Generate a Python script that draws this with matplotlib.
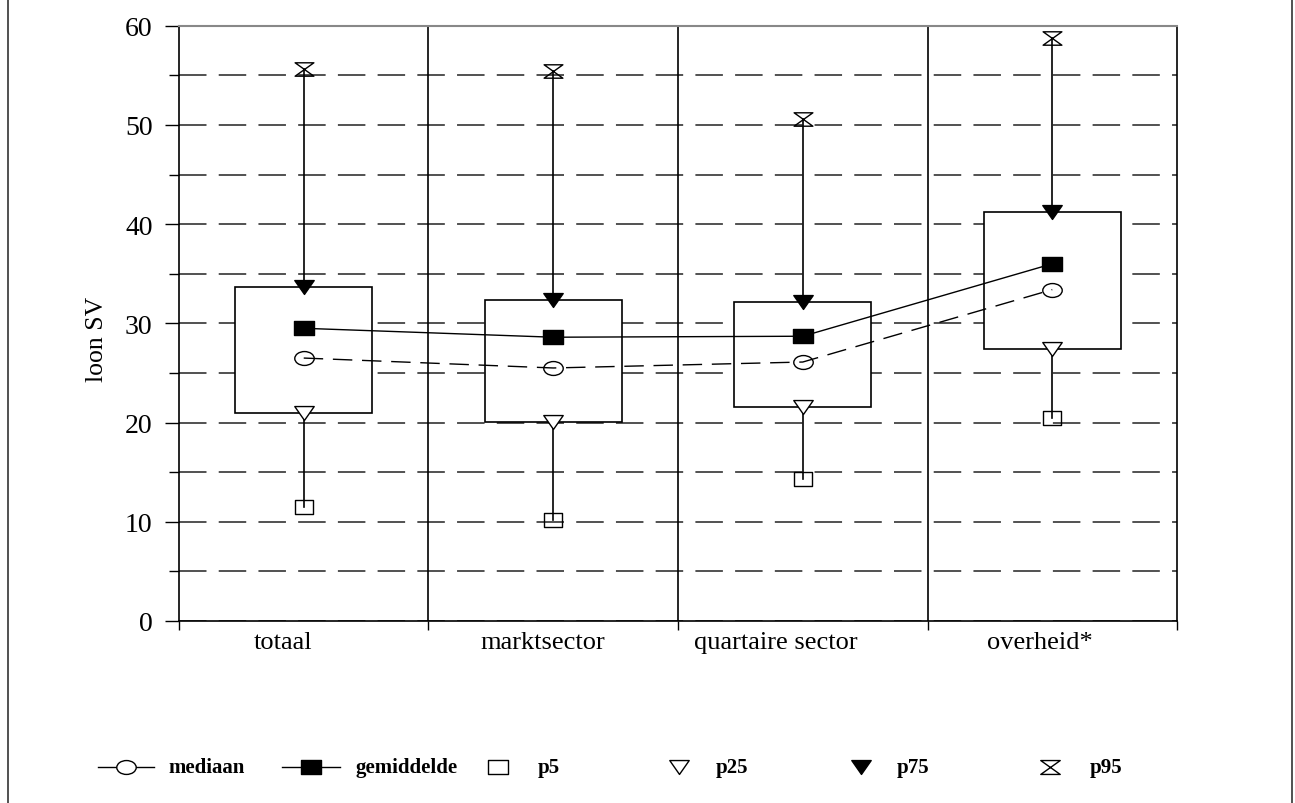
import numpy as np
import matplotlib
matplotlib.use("Agg")
import matplotlib.pyplot as plt
from matplotlib.path import Path
from matplotlib.transforms import Affine2D
from matplotlib.lines import Line2D
from matplotlib.patches import Rectangle

plt.rcParams['font.family'] = ['Liberation Serif', 'DejaVu Serif']

# data
categories = ['totaal', 'marktsector', 'quartaire sector', 'overheid*']
p5 = [11.5, 10.2, 14.3, 20.5]
p25 = [21.0, 20.1, 21.6, 27.4]
mediaan = [26.5, 25.5, 26.1, 33.4]
gemiddelde = [29.5, 28.6, 28.7, 36.0]
p75 = [33.7, 32.4, 32.1, 41.2]
p95 = [55.6, 55.4, 50.6, 58.8]

# scanned markers are stretched horizontally
sx = 1.4
m_ellipse = Path.unit_circle().transformed(Affine2D().scale(sx, 1))
m_rect = Path.unit_rectangle().transformed(Affine2D().translate(-0.5, -0.5).scale(sx, 1))
m_tri = Path([(-sx, 1), (sx, 1), (0, -1), (-sx, 1)],
             [Path.MOVETO, Path.LINETO, Path.LINETO, Path.CLOSEPOLY])
m_hour = Path([(-sx, 1), (sx, 1), (-sx, -1), (sx, -1), (-sx, 1)],
              [Path.MOVETO, Path.LINETO, Path.LINETO, Path.LINETO, Path.CLOSEPOLY])

fig = plt.figure(figsize=(12.95, 8.04), dpi=100)
ax = fig.add_axes([0.1382, 0.2264, 0.7707, 0.7404])

x = np.arange(len(categories))
bw = 0.55

ax.set_xlim(-0.5, len(categories) - 0.5)
ax.set_ylim(0, 60)

# gridlines
ax.set_yticks(np.arange(0, 61, 10))
ax.set_yticks(np.arange(5, 60, 10), minor=True)
ax.grid(axis='y', which='both', linestyle=(0, (18, 8)), color='#222222', lw=1.1, zorder=0.5)
ax.set_axisbelow(True)
for b in x[:-1] + 0.5:
    ax.axvline(b, color='black', lw=1.2, zorder=1)

# boxes and whiskers
for i in x:
    ax.add_patch(Rectangle((i - bw / 2, p25[i]), bw, p75[i] - p25[i],
                           facecolor='white', edgecolor='black', lw=1.2, zorder=2))
    ax.plot([i, i], [p5[i], p25[i]], color='black', lw=1.2, zorder=2)
    ax.plot([i, i], [p75[i], p95[i]], color='black', lw=1.2, zorder=2)

ax.plot(x, gemiddelde, color='black', lw=1.0, zorder=3)
ax.plot(x, mediaan, color='black', lw=1.0, linestyle=(0, (14, 7)), zorder=3)

ax.plot(x, p5, linestyle='none', marker=m_rect, ms=13.5, mfc='none', mec='black', mew=1.0, zorder=4)
ax.plot(x, p25, linestyle='none', marker=m_tri, ms=14, mfc='white', mec='black', mew=1.0, zorder=4)
ax.plot(x, p75, linestyle='none', marker=m_tri, ms=14, mfc='black', mec='black', mew=1.0, zorder=4)
ax.plot(x, p95, linestyle='none', marker=m_hour, ms=13.5, mfc='none', mec='black', mew=1.0, zorder=4)
ax.plot(x, mediaan, linestyle='none', marker=m_ellipse, ms=14, mfc='none', mec='black', mew=1.0, zorder=4)
ax.plot(x, gemiddelde, linestyle='none', marker=m_rect, ms=14, mfc='black', mec='black', mew=1.0, zorder=4)

# axes styling; category labels sit a little left of the category centres in the scan
label_shift = np.array([21, 10, 27, 12]) / 249.5
ax.set_xticks(np.arange(len(categories) + 1) - 0.5)
ax.set_xticklabels([])
ax.set_xticks(x - label_shift, minor=True)
ax.set_xticklabels(categories, minor=True, fontsize=19)
ax.tick_params(axis='x', which='major', direction='out', length=6.5, width=1.0)
ax.tick_params(axis='x', which='minor', length=0, pad=7)
ax.tick_params(axis='y', which='major', direction='out', length=10, width=1.0, pad=9, labelsize=20)
ax.tick_params(axis='y', which='minor', direction='out', length=7, width=1.0)

for s in ['left', 'bottom', 'right']:
    ax.spines[s].set_linewidth(1.2)
    ax.spines[s].set_color('black')
ax.spines['top'].set_color('#888888')
ax.spines['top'].set_linewidth(1.5)

ax.set_ylabel('loon SV', fontsize=18.5)
ax.yaxis.set_label_coords(-0.071, 0.475)

# legend drawn by hand along the bottom
ly = 1 - 768 / 804
W = 1295.0

def leg_line(x0, x1, marker, filled):
    fig.add_artist(Line2D([x0 / W, x1 / W], [ly, ly], color='black', lw=1.0,
                          transform=fig.transFigure))
    fig.add_artist(Line2D([(x0 + x1) / 2 / W], [ly], marker=marker, ms=14,
                          mfc='black' if filled else 'white', mec='black', mew=1.0,
                          transform=fig.transFigure))

def leg_marker(xc, marker, filled):
    fig.add_artist(Line2D([xc / W], [ly], marker=marker, ms=14, linestyle='none',
                          mfc='black' if filled else 'none', mec='black', mew=1.0,
                          transform=fig.transFigure))

def leg_text(x0, s):
    fig.text(x0 / W, ly, s, fontsize=15, fontweight='bold', va='center', ha='left')

leg_line(98, 154, m_ellipse, False)
leg_text(168, 'mediaan')
leg_line(282, 340, m_rect, True)
leg_text(355, 'gemiddelde')
leg_marker(498, m_rect, False)
leg_text(538, 'p5')
leg_marker(679, m_tri, False)
leg_text(716, 'p25')
leg_marker(861, m_tri, True)
leg_text(897, 'p75')
leg_marker(1050, m_hour, False)
leg_text(1090, 'p95')

# page frame edges of the scan
fig.add_artist(Line2D([8 / W, 8 / W], [0, 1], color='#333333', lw=1.2, transform=fig.transFigure))
fig.add_artist(Line2D([1292 / W, 1292 / W], [0, 1], color='#333333', lw=1.2, transform=fig.transFigure))

fig.savefig('out.png', dpi=100)
